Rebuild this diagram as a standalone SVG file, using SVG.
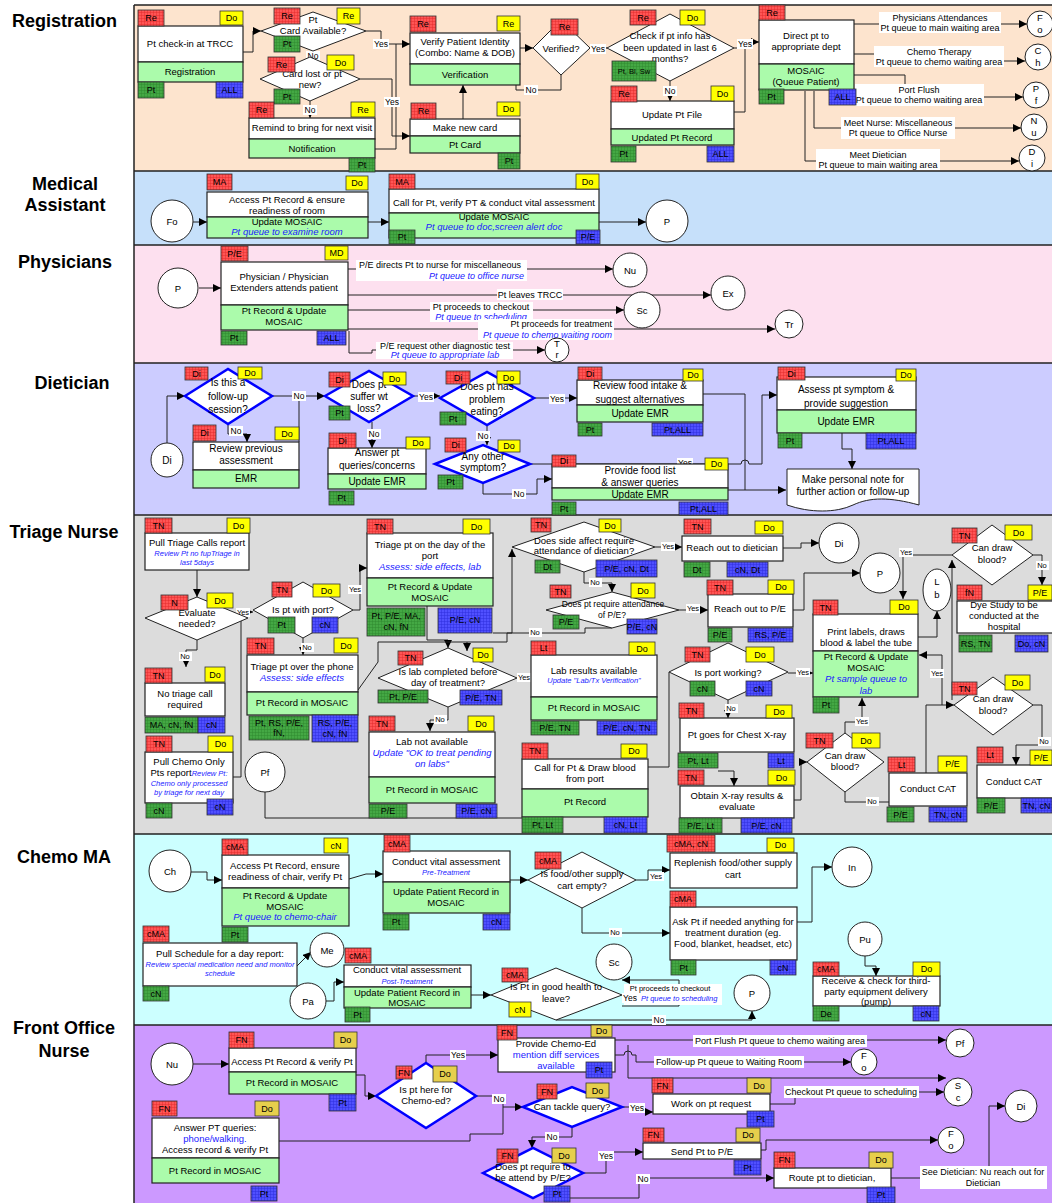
<svg xmlns="http://www.w3.org/2000/svg" width="1052" height="1203" viewBox="0 0 1052 1203">
<defs>
<style>
text{font-family:"Liberation Sans",Arial,sans-serif;font-size:9.5px;text-anchor:middle;fill:#000}
.h{font-weight:bold;font-size:18px}
.dt{font-size:10px}
.s{font-size:8.5px}
.xs{font-size:7.5px}
.tt{font-size:9px}
.t7{font-size:7.5px}
.lt{font-size:9px}
.bl{fill:#1a1aff;font-style:italic}
.bn{fill:#1a1aff}
.st{text-anchor:start}
.en{text-anchor:end}
.ln{fill:none;stroke:#222;stroke-width:1}
.ar{marker-end:url(#ah)}
.w{fill:#fff;stroke:#222;stroke-width:1.2}
.g{fill:#abfbab;stroke:#222;stroke-width:1.2}
.d{fill:#fff;stroke:#222;stroke-width:1}
.db{fill:#fff;stroke:#0000ff;stroke-width:2.5}
.c{fill:#fff;stroke:#222;stroke-width:1}
.R{fill:url(#pR);stroke:#333;stroke-width:.8}
.Y{fill:#ffff00;stroke:#333;stroke-width:.8}
.Y2{fill:#e6cf4c;stroke:#333;stroke-width:.8}
.G{fill:url(#pG);stroke:#333;stroke-width:.8}
.B{fill:url(#pB);stroke:#333;stroke-width:.8}
.lb{fill:#fff}
</style>
<pattern id="pR" width="3" height="3" patternUnits="userSpaceOnUse"><rect width="3" height="3" fill="#ff5555"/><path d="M0,.5H3M.5,0V3" stroke="#e02828" stroke-width=".45"/></pattern>
<pattern id="pG" width="3" height="3" patternUnits="userSpaceOnUse"><rect width="3" height="3" fill="#44a844"/><path d="M0,.5H3M.5,0V3" stroke="#2c862c" stroke-width=".45"/></pattern>
<pattern id="pB" width="3" height="3" patternUnits="userSpaceOnUse"><rect width="3" height="3" fill="#5050ff"/><path d="M0,.5H3M.5,0V3" stroke="#2a2ad8" stroke-width=".45"/></pattern>
<marker id="ah" viewBox="0 0 10 10" refX="10" refY="5" markerWidth="8" markerHeight="8" markerUnits="userSpaceOnUse" orient="auto"><path d="M0,0L10,5L0,10Z" fill="#000"/></marker>
</defs>
<rect width="1052" height="1203" fill="#fff"/>
<g id="lanes">
<rect x="134" y="5" width="920" height="166" fill="#fde4ce"/>
<rect x="134" y="171" width="920" height="74" fill="#c6e0fa"/>
<rect x="134" y="245" width="920" height="118" fill="#fde0ef"/>
<rect x="134" y="363" width="920" height="152" fill="#ccccff"/>
<rect x="134" y="515" width="920" height="319" fill="#dcdcdc"/>
<rect x="134" y="834" width="920" height="191" fill="#ccffff"/>
<rect x="134" y="1025" width="920" height="180" fill="#cc99ff"/>
<path d="M134,5H1052M134,171H1052M134,245H1052M134,363H1052M134,515H1052M134,834H1052M134,1025H1052M134,5V1203" stroke="#222" stroke-width="1.5" fill="none"/>
<text class="h st" x="12" y="27">Registration</text>
<text class="h" x="65" y="190">Medical</text>
<text class="h" x="65" y="211">Assistant</text>
<text class="h" x="65" y="268">Physicians</text>
<text class="h" x="72" y="389">Dietician</text>
<text class="h" x="64" y="538">Triage Nurse</text>
<text class="h" x="64" y="863">Chemo MA</text>
<text class="h" x="64" y="1034">Front Office</text>
<text class="h" x="64" y="1057">Nurse</text>
</g>
<g id="connectors">
<path class="ln ar" d="M243,52H253V31H261"/>
<path class="ln ar" d="M366,31H381V44H410"/>
<path class="ln" d="M313,51V57"/>
<path class="ln ar" d="M310,101V118"/>
<path class="ln ar" d="M360,79H392V136H410"/>
<path class="ln" d="M375,149H396V44"/>
<path class="ln ar" d="M463,119V85"/>
<path class="ln ar" d="M520,48H533"/>
<path class="ln ar" d="M561,75V90H516V65"/>
<path class="ln ar" d="M590,48H607"/>
<path class="ln ar" d="M670,81V101"/>
<path class="ln ar" d="M734,48H745V42H759"/>
<path class="ln" d="M734,112H745V48"/>
<path class="ln ar" d="M854,24H1027"/>
<path class="ln ar" d="M854,54H880V61H1025"/>
<path class="ln ar" d="M854,75H905V97H1023"/>
<path class="ln ar" d="M814,91V128H1021"/>
<path class="ln ar" d="M805,91V161H1019"/>
<rect class="lb" x="879" y="12" width="122" height="21"/><text class="lt" x="940" y="21">Physicians Attendances</text><text class="lt" x="940" y="31">Pt queue to main waiting area</text>
<rect class="lb" x="874" y="46" width="130" height="21"/><text class="lt" x="939" y="55">Chemo Therapy</text><text class="lt" x="939" y="65">Pt queue to chemo waiting area</text>
<rect class="lb" x="855" y="84" width="129" height="22"/><text class="lt" x="919" y="93">Port Flush</text><text class="lt" x="919" y="103">Pt queue to chemo waiting area</text>
<rect class="lb" x="841" y="117" width="114" height="22"/><text class="lt" x="898" y="126">Meet Nurse: Miscellaneous</text><text class="lt" x="898" y="136">Pt queue to Office Nurse</text>
<rect class="lb" x="816" y="149" width="124" height="21"/><text class="lt" x="878" y="158">Meet Dietician</text><text class="lt" x="878" y="168">Pt queue to main waiting area</text>
<rect class="lb" x="306" y="51" width="14" height="10"/><text class="s" x="313" y="59">No</text>
<rect class="lb" x="303" y="105" width="14" height="10"/><text class="s" x="310" y="113">No</text>
<rect class="lb" x="384" y="97" width="16" height="10"/><text class="s" x="392" y="105">Yes</text>
<rect class="lb" x="373" y="39" width="16" height="10"/><text class="s" x="381" y="47">Yes</text>
<rect class="lb" x="524" y="85" width="14" height="10"/><text class="s" x="531" y="93">No</text>
<rect class="lb" x="590" y="44" width="16" height="10"/><text class="s" x="598" y="52">Yes</text>
<rect class="lb" x="663" y="86" width="14" height="10"/><text class="s" x="670" y="94">No</text>
<rect class="lb" x="737" y="39" width="16" height="10"/><text class="s" x="745" y="47">Yes</text>
<path class="ln ar" d="M193,222H207"/>
<path class="ln ar" d="M368,222H389"/>
<path class="ln ar" d="M599,222H646"/>
<path class="ln ar" d="M199,288H221"/>
<path class="ln ar" d="M348,269H613"/>
<path class="ln ar" d="M348,295H711"/>
<path class="ln ar" d="M348,310H624"/>
<path class="ln ar" d="M348,329H775"/>
<path class="ln ar" d="M349,331V353H372V350H545"/>
<rect class="lb" x="356" y="260" width="171" height="21"/><text class="lt st" x="359" y="268">P/E directs Pt to nurse for miscellaneous</text><text class="lt en bl" x="524" y="279">Pt queue to office nurse</text>
<rect class="lb" x="497" y="289" width="66" height="11"/><text class="lt" x="530" y="298">Pt leaves TRCC</text>
<rect class="lb" x="430" y="302" width="103" height="20"/><text class="lt" x="481" y="310">Pt proceeds to checkout</text><text class="lt bl" x="481" y="320">Pt queue to scheduling</text>
<rect class="lb" x="478" y="319" width="136" height="21"/><text class="lt en" x="612" y="327">Pt proceeds for treatment</text><text class="lt en bl" x="612" y="338">Pt queue to chemo waiting room</text>
<rect class="lb" x="376" y="342" width="137" height="17"/><text class="lt" x="445" y="349">P/E request other diagnostic test</text><text class="lt bl" x="445" y="358">Pt queue to appropriate lab</text>
<path class="ln ar" d="M167,443V396H185"/>
<path class="ln ar" d="M272,396H325"/>
<path class="ln" d="M299,442V396"/>
<path class="ln ar" d="M228,424V434H247V442"/>
<path class="ln ar" d="M413,396H440"/>
<path class="ln ar" d="M372,422V448"/>
<path class="ln ar" d="M534,398H577"/>
<path class="ln ar" d="M487,425V445"/>
<path class="ln ar" d="M530,464H741A4,4 0 0 1 749,464H762V395H777"/>
<path class="ln ar" d="M703,394H745V490H786"/>
<path class="ln" d="M728,490H745"/>
<path class="ln ar" d="M483,483V494H537V479H552"/>
<path class="ln ar" d="M842,433V449H852V469"/>
<rect class="lb" x="292" y="391" width="14" height="10"/><text class="s" x="299" y="399">No</text>
<rect class="lb" x="229" y="426" width="14" height="10"/><text class="s" x="236" y="434">No</text>
<rect class="lb" x="418" y="392" width="16" height="10"/><text class="s" x="426" y="400">Yes</text>
<rect class="lb" x="367" y="429" width="14" height="10"/><text class="s" x="374" y="437">No</text>
<rect class="lb" x="549" y="394" width="16" height="10"/><text class="s" x="557" y="402">Yes</text>
<rect class="lb" x="476" y="431" width="14" height="10"/><text class="s" x="483" y="439">No</text>
<rect class="lb" x="677" y="458" width="16" height="10"/><text class="s" x="685" y="466">Yes</text>
<rect class="lb" x="512" y="489" width="14" height="10"/><text class="s" x="519" y="497">No</text>
<path class="ln ar" d="M197,570V597"/>
<path class="ln ar" d="M197,640V650H186V667"/>
<path class="ln ar" d="M246,612H253"/>
<path class="ln" d="M233,777H241V612H248"/>
<path class="ln ar" d="M353,610H360V568H367"/>
<path class="ln ar" d="M303,638V655"/>
<path class="ln ar" d="M427,606V640H448V648"/>
<path class="ln ar" d="M358,690L378,662V642H467V651"/>
<path class="ln ar" d="M493,633H512V549"/>
<path class="ln" d="M612,628H585V633H507V642H467"/>
<path class="ln ar" d="M655,547H682"/>
<path class="ln ar" d="M584,572V583H612V592"/>
<path class="ln ar" d="M679,610H708"/>
<path class="ln ar" d="M783,548H801V543H819"/>
<path class="ln ar" d="M793,610H804V573H860"/>
<path class="ln ar" d="M952,555H903V599"/>
<path class="ln ar" d="M1033,555H1042V585"/>
<path class="ln ar" d="M918,637H937V611"/>
<path class="ln ar" d="M517,678H531"/>
<path class="ln ar" d="M788,673H813"/>
<path class="ln ar" d="M728,700V718"/>
<path class="ln" d="M648,767H669V672"/>
<path class="ln ar" d="M718,771H734V786"/>
<path class="ln ar" d="M794,800H801V762H807"/>
<path class="ln ar" d="M845,733V722H862V698"/>
<path class="ln" d="M845,792V802H889"/>
<path class="ln ar" d="M926,773V705H954"/>
<path class="ln ar" d="M942,705V655H919"/>
<path class="ln ar" d="M952,700V560"/>
<path class="ln ar" d="M1033,705H1042V745H1016V765"/>
<path class="ln" d="M265,792V818H522"/>
<path class="ln ar" d="M448,707V720H430V731"/>
<rect class="lb" x="179" y="652" width="13" height="9"/><text class="xs" x="185" y="659">No</text>
<rect class="lb" x="236" y="608" width="14" height="9"/><text class="xs" x="243" y="615">Yes</text>
<rect class="lb" x="348" y="585" width="14" height="9"/><text class="xs" x="355" y="592">Yes</text>
<rect class="lb" x="301" y="643" width="13" height="9"/><text class="xs" x="307" y="650">No</text>
<rect class="lb" x="529" y="628" width="13" height="9"/><text class="xs" x="535" y="635">No</text>
<rect class="lb" x="661" y="542" width="14" height="9"/><text class="xs" x="668" y="549">Yes</text>
<rect class="lb" x="589" y="578" width="13" height="9"/><text class="xs" x="595" y="585">No</text>
<rect class="lb" x="686" y="604" width="14" height="9"/><text class="xs" x="693" y="611">Yes</text>
<rect class="lb" x="899" y="548" width="14" height="9"/><text class="xs" x="906" y="555">Yes</text>
<rect class="lb" x="1036" y="561" width="13" height="9"/><text class="xs" x="1042" y="568">No</text>
<rect class="lb" x="517" y="673" width="14" height="9"/><text class="xs" x="524" y="680">Yes</text>
<rect class="lb" x="796" y="668" width="14" height="9"/><text class="xs" x="803" y="675">Yes</text>
<rect class="lb" x="725" y="704" width="13" height="9"/><text class="xs" x="731" y="711">No</text>
<rect class="lb" x="855" y="717" width="14" height="9"/><text class="xs" x="862" y="724">Yes</text>
<rect class="lb" x="866" y="797" width="13" height="9"/><text class="xs" x="872" y="804">No</text>
<rect class="lb" x="930" y="669" width="14" height="9"/><text class="xs" x="937" y="676">Yes</text>
<rect class="lb" x="1038" y="737" width="13" height="9"/><text class="xs" x="1044" y="744">No</text>
<rect class="lb" x="434" y="715" width="13" height="9"/><text class="xs" x="440" y="722">No</text>
<path class="ln ar" d="M191,872H207V880H222"/>
<path class="ln ar" d="M349,879L366,874H383"/>
<path class="ln ar" d="M510,880H528"/>
<path class="ln ar" d="M636,880H648V870H670"/>
<path class="ln ar" d="M582,908V933H670"/>
<path class="ln ar" d="M797,922H812V867H832"/>
<path class="ln ar" d="M297,966L311,952"/>
<path class="ln ar" d="M326,1001H334V982H344"/>
<path class="ln ar" d="M471,995H491"/>
<path class="ln ar" d="M622,1006H679V980H622"/>
<path class="ln ar" d="M556,1020H752V1011"/>
<path class="ln ar" d="M865,956V966H876V976"/>
<rect class="lb" x="624" y="984" width="98" height="21"/><text class="xs" x="670" y="991">Pt proceeds to checkout</text><text class="xs bl st" x="641" y="1001">Pt queue to scheduling</text>
<rect class="lb" x="622" y="993" width="17" height="10"/><text class="s" x="630" y="1001">Yes</text>
<rect class="lb" x="649" y="872" width="15" height="9"/><text class="xs" x="656" y="879">Yes</text>
<rect class="lb" x="609" y="928" width="13" height="9"/><text class="xs" x="615" y="935">No</text>
<rect class="lb" x="652" y="1015" width="14" height="10"/><text class="s" x="659" y="1023">No</text>
<path class="ln ar" d="M193,1064H229"/>
<path class="ln ar" d="M356,1075H365V1096H376"/>
<path class="ln ar" d="M426,1063V1055H498"/>
<path class="ln ar" d="M476,1096H503V1107H523"/>
<path class="ln" d="M279,1141H470V1134H503V1107"/>
<path class="ln ar" d="M615,1040H946"/>
<path class="ln ar" d="M615,1055H624A4,4 0 0 1 632,1055H636V1062H851"/>
<path class="ln ar" d="M628,1045V1078H946"/>
<path class="ln ar" d="M622,1107H636V1112H653"/>
<path class="ln ar" d="M770,1104H795V1092H944"/>
<path class="ln ar" d="M572,1127V1137H532V1148"/>
<path class="ln ar" d="M583,1173H606V1152H643"/>
<path class="ln ar" d="M570,1198H639V1178H774"/>
<path class="ln ar" d="M761,1150H766V1140H938"/>
<path class="ln" d="M891,1178H920"/>
<path class="ln ar" d="M989,1167V1106H1005"/>
<rect class="lb" x="693" y="1035" width="174" height="12"/><text class="lt" x="780" y="1044">Port Flush Pt queue to chemo waiting area</text>
<rect class="lb" x="654" y="1056" width="150" height="12"/><text class="lt" x="729" y="1065">Follow-up Pt queue to Waiting Room</text>
<rect class="lb" x="784" y="1086" width="135" height="12"/><text class="lt" x="851" y="1095">Checkout Pt queue to scheduling</text>
<rect class="lb" x="920" y="1166" width="127" height="23"/><text class="lt" x="983" y="1175">See Dietician: Nu reach out for</text><text class="lt" x="983" y="1186">Dietician</text>
<rect class="lb" x="450" y="1050" width="16" height="10"/><text class="s" x="458" y="1058">Yes</text>
<rect class="lb" x="492" y="1094" width="14" height="10"/><text class="s" x="499" y="1102">No</text>
<rect class="lb" x="629" y="1103" width="16" height="10"/><text class="s" x="637" y="1111">Yes</text>
<rect class="lb" x="545" y="1132" width="14" height="10"/><text class="s" x="552" y="1140">No</text>
<rect class="lb" x="598" y="1151" width="16" height="10"/><text class="s" x="606" y="1159">Yes</text>
<rect class="lb" x="636" y="1174" width="14" height="10"/><text class="s" x="643" y="1182">No</text>
</g>
<g id="reg_checkin"><rect class="w" x="138" y="26" width="105" height="36"/><rect class="g" x="138" y="62" width="105" height="20"/><text x="190" y="47">Pt check-in at TRCC</text><text x="190" y="75">Registration</text><rect class="R" x="138" y="10" width="26" height="16"/><text class="tt" x="151" y="21">Re</text><rect class="Y" x="220" y="11" width="23" height="14"/><text class="tt" x="231.5" y="21">Do</text><rect class="G" x="138" y="82" width="26" height="16"/><text class="tt" x="151" y="93">Pt</text><rect class="B" x="216" y="82" width="27" height="16"/><text class="tt" x="229.5" y="93">ALL</text></g>
<g id="reg_cardavail"><polygon class="d" points="261,31 313,12 366,31 313,51"/><text x="313" y="23">Pt</text><text x="313" y="34">Card Available?</text><rect class="R" x="274" y="8" width="26" height="16"/><text class="tt" x="287" y="19">Re</text><rect class="Y" x="337" y="8" width="23" height="16"/><text class="tt" x="348.5" y="19">Re</text><rect class="G" x="274" y="36" width="26" height="16"/><text class="tt" x="287" y="47">Pt</text></g>
<g id="reg_cardlost"><polygon class="d" points="260,79 310,57 360,79 310,101"/><text x="312" y="77">Card lost or pt</text><text x="310" y="88">new?</text><rect class="R" x="268" y="57" width="27" height="15"/><text class="tt" x="281.5" y="67.5">Re</text><rect class="Y" x="327" y="55" width="27" height="15"/><text class="tt" x="340.5" y="65.5">Do</text><rect class="G" x="274" y="89" width="26" height="15"/><text class="tt" x="287" y="99.5">Pt</text></g>
<g id="reg_remind"><rect class="w" x="249" y="118" width="126" height="21"/><rect class="g" x="249" y="139" width="126" height="19"/><text x="312" y="131">Remind to bring for next visit</text><text x="312" y="152">Notification</text><rect class="R" x="249" y="102" width="25" height="16"/><text class="tt" x="261.5" y="113">Re</text><rect class="Y" x="351" y="102" width="24" height="15"/><text class="tt" x="363" y="112.5">Re</text><rect class="G" x="349" y="158" width="26" height="14"/><text class="tt" x="362" y="168">Pt</text></g>
<g id="reg_verify"><rect class="w" x="410" y="33" width="110" height="31"/><rect class="g" x="410" y="64" width="110" height="21"/><text x="465" y="45">Verify Patient Identity</text><text x="465" y="56">(Combo: Name &amp; DOB)</text><text x="465" y="78">Verification</text><rect class="R" x="410" y="16" width="26" height="16"/><text class="tt" x="423" y="27">Re</text><rect class="Y" x="497" y="16" width="23" height="15"/><text class="tt" x="508.5" y="26.5">Re</text></g>
<g id="reg_newcard"><rect class="w" x="410" y="119" width="110" height="17"/><rect class="g" x="410" y="136" width="110" height="17"/><text x="465" y="131">Make new card</text><text x="465" y="148">Pt Card</text><rect class="R" x="411" y="103" width="25" height="16"/><text class="tt" x="423.5" y="114">Re</text><rect class="Y" x="497" y="102" width="23" height="14"/><text class="tt" x="508.5" y="112">Do</text><rect class="G" x="498" y="153" width="22" height="16"/><text class="tt" x="509" y="164">Pt</text></g>
<g id="reg_verified"><polygon class="d" points="533,48 561,20 590,48 561,75"/><text x="561" y="52">Verified?</text><rect class="R" x="551" y="19" width="27" height="16"/><text class="tt" x="564.5" y="30">Re</text></g>
<g id="reg_check"><polygon class="d" points="607,48 670,14 734,48 670,81"/><text x="670" y="39">Check if pt info has</text><text x="670" y="51">been updated in last 6</text><text x="670" y="62">months?</text><rect class="R" x="630" y="10" width="26" height="15"/><text class="tt" x="643" y="20.5">Re</text><rect class="Y" x="680" y="10" width="25" height="15"/><text class="tt" x="692.5" y="20.5">Do</text><rect class="G" x="612" y="61" width="44" height="20"/><text class="t7" x="634" y="74">Pt, Bl, Sw</text></g>
<g id="reg_update"><rect class="w" x="611" y="101" width="123" height="28"/><rect class="g" x="611" y="129" width="123" height="16"/><text x="672" y="118">Update Pt File</text><text x="672" y="141">Updated Pt  Record</text><rect class="R" x="611" y="86" width="26" height="16"/><text class="tt" x="624" y="97">Re</text><rect class="Y" x="711" y="86" width="23" height="15"/><text class="tt" x="722.5" y="96.5">Do</text><rect class="G" x="611" y="146" width="25" height="16"/><text class="tt" x="623.5" y="157">Pt</text><rect class="B" x="707" y="146" width="27" height="16"/><text class="tt" x="720.5" y="157">ALL</text></g>
<g id="reg_direct"><rect class="w" x="759" y="20" width="95" height="44"/><rect class="g" x="759" y="64" width="95" height="26"/><text x="806" y="39">Direct pt to</text><text x="806" y="50">appropriate dept</text><text x="806" y="74">MOSAIC</text><text x="806" y="85">(Queue Patient)</text><rect class="R" x="759" y="5" width="26" height="15"/><text class="tt" x="772" y="15.5">Re</text><rect class="G" x="759" y="89" width="25" height="15"/><text class="tt" x="771.5" y="99.5">Pt</text><rect class="B" x="829" y="89" width="27" height="16"/><text class="tt" x="842.5" y="100">ALL</text></g>
<g id="reg_fo"><circle class="c" cx="1040" cy="24" r="13"/><text x="1040" y="21">F</text><text x="1040" y="33">o</text></g>
<g id="reg_ch"><circle class="c" cx="1038" cy="57" r="13"/><text x="1038" y="54">C</text><text x="1038" y="66">h</text></g>
<g id="reg_pf"><circle class="c" cx="1036" cy="95" r="13"/><text x="1036" y="92">P</text><text x="1036" y="104">f</text></g>
<g id="reg_nu"><circle class="c" cx="1034" cy="127" r="13"/><text x="1034" y="124">N</text><text x="1034" y="136">u</text></g>
<g id="reg_di"><circle class="c" cx="1032" cy="158" r="13"/><text x="1032" y="155">D</text><text x="1032" y="167">i</text></g>
<g id="ma_fo"><circle class="c" cx="172" cy="221" r="21"/><text x="172" y="225">Fo</text></g>
<g id="ma_access"><rect class="w" x="207" y="192" width="161" height="25"/><rect class="g" x="207" y="217" width="161" height="21"/><text x="287" y="203">Access Pt Record &amp; ensure</text><text x="287" y="214">readiness of room</text><text x="287" y="225">Update MOSAIC</text><text class="bl" x="287" y="235">Pt queue to examine room</text><rect class="R" x="207" y="174" width="25" height="16"/><text class="tt" x="219.5" y="185">MA</text><rect class="Y" x="346" y="176" width="22" height="14"/><text class="tt" x="357" y="186">Do</text></g>
<g id="ma_call"><rect class="w" x="389" y="189" width="210" height="24"/><rect class="g" x="389" y="213" width="210" height="25"/><text x="494" y="206">Call for Pt, verify PT &amp; conduct vital assessment</text><text x="494" y="220">Update MOSAIC</text><text class="bl" x="494" y="230">Pt queue to doc,screen alert doc</text><rect class="R" x="389" y="174" width="26" height="15"/><text class="tt" x="402" y="184.5">MA</text><rect class="Y" x="576" y="174" width="23" height="15"/><text class="tt" x="587.5" y="184.5">Do</text><rect class="G" x="389" y="230" width="26" height="14"/><text class="tt" x="402" y="240">Pt</text><rect class="B" x="576" y="230" width="24" height="14"/><text class="tt" x="588" y="240">P/E</text></g>
<g id="ma_p"><circle class="c" cx="667" cy="221" r="21"/><text x="667" y="225">P</text></g>
<g id="ph_p"><circle class="c" cx="178" cy="288" r="20"/><text x="178" y="292">P</text></g>
<g id="ph_attend"><rect class="w" x="221" y="262" width="127" height="43"/><rect class="g" x="221" y="305" width="127" height="25"/><text x="284" y="280">Physician / Physician</text><text x="284" y="291">Extenders attends patient</text><text x="284" y="314">Pt Record &amp; Update</text><text x="284" y="325">MOSAIC</text><rect class="R" x="221" y="246" width="27" height="15"/><text class="tt" x="234.5" y="256.5">P/E</text><rect class="Y" x="325" y="246" width="23" height="14"/><text class="tt" x="336.5" y="256">MD</text><rect class="G" x="221" y="331" width="26" height="14"/><text class="tt" x="234" y="341">Pt</text><rect class="B" x="317" y="331" width="29" height="14"/><text class="tt" x="331.5" y="341">ALL</text></g>
<g id="ph_nu"><circle class="c" cx="630" cy="270" r="17"/><text x="630" y="274">Nu</text></g>
<g id="ph_ex"><circle class="c" cx="728" cy="293" r="17"/><text x="728" y="297">Ex</text></g>
<g id="ph_sc"><circle class="c" cx="642" cy="310" r="18"/><text x="642" y="314">Sc</text></g>
<g id="ph_tr"><circle class="c" cx="789" cy="324" r="14"/><text x="789" y="328">Tr</text></g>
<g id="ph_tr2"><circle class="c" cx="557" cy="350" r="12"/><text x="557" y="347">T</text><text x="557" y="358">r</text></g>
<g id="di_di"><ellipse class="c" cx="167" cy="460" rx="16" ry="17"/><text class="dt" x="167" y="464">Di</text></g>
<g id="di_followup"><polygon class="db" points="185,396 228,369 272,396 228,424"/><text class="dt" x="228" y="386">Is this a</text><text class="dt" x="228" y="400">follow-up</text><text class="dt" x="228" y="413">session?</text><rect class="R" x="185" y="367" width="23" height="13"/><text class="tt" x="196.5" y="376.5">Di</text><rect class="Y" x="238" y="367" width="24" height="12"/><text class="tt" x="250" y="376">Do</text></g>
<g id="di_review"><rect class="w" x="193" y="442" width="106" height="28"/><rect class="g" x="193" y="470" width="106" height="18"/><text class="dt" x="246" y="452">Review previous</text><text class="dt" x="246" y="464">assessment</text><text class="dt" x="246" y="482">EMR</text><rect class="R" x="193" y="425" width="23" height="16"/><text class="tt" x="204.5" y="436">Di</text><rect class="Y" x="275" y="427" width="24" height="13"/><text class="tt" x="287" y="436.5">Do</text></g>
<g id="di_wtloss"><polygon class="db" points="325,396 369,371 413,396 369,422"/><text class="dt" x="369" y="388">Does pt</text><text class="dt" x="369" y="400">suffer wt</text><text class="dt" x="369" y="412">loss?</text><rect class="R" x="329" y="372" width="21" height="15"/><text class="tt" x="339.5" y="382.5">Di</text><rect class="Y" x="383" y="372" width="23" height="13"/><text class="tt" x="394.5" y="381.5">Do</text><rect class="G" x="329" y="406" width="21" height="14"/><text class="tt" x="339.5" y="416">Pt</text></g>
<g id="di_answer"><rect class="w" x="328" y="448" width="98" height="26"/><rect class="g" x="328" y="474" width="98" height="15"/><text class="dt" x="377" y="456">Answer pt</text><text class="dt" x="377" y="469">queries/concerns</text><text class="dt" x="377" y="485">Update EMR</text><rect class="R" x="329" y="433" width="27" height="15"/><text class="tt" x="342.5" y="443.5">Di</text><rect class="Y" x="406" y="437" width="24" height="12"/><text class="tt" x="418" y="446">Do</text><rect class="G" x="329" y="491" width="25" height="14"/><text class="tt" x="341.5" y="501">Pt</text></g>
<g id="di_eating"><polygon class="db" points="440,398 487,372 534,398 487,425"/><text class="dt" x="487" y="390">Does pt has</text><text class="dt" x="487" y="403">problem</text><text class="dt" x="487" y="415">eating?</text><rect class="R" x="446" y="371" width="24" height="13"/><text class="tt" x="458" y="380.5">Di</text><rect class="Y" x="497" y="371" width="23" height="13"/><text class="tt" x="508.5" y="380.5">Do</text><rect class="G" x="440" y="412" width="26" height="13"/><text class="tt" x="453" y="421.5">Pt</text></g>
<g id="di_other"><polygon class="db" points="435,464 483,445 530,464 483,483"/><text class="dt" x="483" y="460">Any other</text><text class="dt" x="483" y="471">symptom?</text><rect class="R" x="445" y="438" width="21" height="14"/><text class="tt" x="455.5" y="448">Di</text><rect class="Y" x="498" y="440" width="22" height="12"/><text class="tt" x="509" y="449">Do</text><rect class="G" x="438" y="475" width="25" height="14"/><text class="tt" x="450.5" y="485">Pt</text></g>
<g id="di_food"><rect class="w" x="577" y="380" width="126" height="25"/><rect class="g" x="577" y="405" width="126" height="17"/><text class="dt" x="640" y="389">Review food intake &amp;</text><text class="dt" x="640" y="403">suggest alternatives</text><text class="dt" x="640" y="417">Update EMR</text><rect class="R" x="578" y="367" width="24" height="13"/><text class="tt" x="590" y="376.5">Di</text><rect class="Y" x="683" y="369" width="20" height="12"/><text class="tt" x="693" y="378">Do</text><rect class="G" x="578" y="423" width="24" height="13"/><text class="tt" x="590" y="432.5">Pt</text><rect class="B" x="652" y="423" width="51" height="13"/><text class="tt" x="677.5" y="432.5">Pt,ALL</text></g>
<g id="di_provide"><rect class="w" x="552" y="464" width="176" height="24"/><text class="dt" x="640" y="474">Provide food list</text><text class="dt" x="640" y="486">&amp; answer queries</text><rect class="g" x="552" y="488" width="176" height="12"/><text class="dt" x="640" y="498">Update EMR</text><rect class="R" x="552" y="455" width="24" height="12"/><text class="tt" x="564" y="464">Di</text><rect class="Y" x="705" y="458" width="23" height="12"/><text class="tt" x="716.5" y="467">Do</text><rect class="G" x="552" y="502" width="24" height="13"/><text class="tt" x="564" y="511.5">Pt</text><rect class="B" x="679" y="502" width="49" height="13"/><text class="tt" x="703.5" y="511.5">Pt,ALL</text></g>
<g id="di_assess"><rect class="w" x="777" y="377" width="139" height="33"/><rect class="g" x="777" y="410" width="139" height="23"/><text class="dt" x="846" y="393">Assess pt symptom &amp;</text><text class="dt" x="846" y="407">provide suggestion</text><text class="dt" x="846" y="425">Update EMR</text><rect class="R" x="778" y="367" width="27" height="13"/><text class="tt" x="791.5" y="376.5">Di</text><rect class="Y" x="896" y="369" width="20" height="12"/><text class="tt" x="906" y="378">Do</text><rect class="G" x="778" y="433" width="24" height="15"/><text class="tt" x="790" y="443.5">Pt</text><rect class="B" x="866" y="433" width="50" height="16"/><text class="tt" x="891" y="444">Pt,ALL</text></g>
<g id="di_note"><path class="c" d="M787,469H919V505C890,497 870,497 853,505C836,513 810,513 787,505Z"/><text class="dt" x="853" y="483">Make personal note for</text><text class="dt" x="853" y="495">further action or follow-up</text></g>
<g id="tn_pull"><rect class="w" x="145" y="533" width="104" height="37"/><text x="197" y="546">Pull Triage Calls report</text><text class="xs bl" x="197" y="556">Review Pt no fupTriage in</text><text class="xs bl" x="197" y="565">last 5days</text><rect class="R" x="145" y="518" width="27" height="15"/><text class="tt" x="158.5" y="528.5">TN</text><rect class="Y" x="227" y="518" width="23" height="15"/><text class="tt" x="238.5" y="528.5">Do</text></g>
<g id="tn_eval"><polygon class="d" points="145,618 197,597 248,618 197,640"/><text x="197" y="616">Evaluate</text><text x="197" y="627">needed?</text><rect class="R" x="161" y="595" width="27" height="15"/><text class="tt" x="174.5" y="605.5">N</text><rect class="Y" x="207" y="593" width="26" height="15"/><text class="tt" x="220" y="603.5">Do</text></g>
<g id="tn_port"><polygon class="d" points="253,610 303,582 353,610 303,638"/><text x="303" y="613">Is pt with port?</text><rect class="R" x="272" y="582" width="20" height="15"/><text class="tt" x="282" y="592.5">TN</text><rect class="Y" x="313" y="584" width="27" height="13"/><text class="tt" x="326.5" y="593.5">Do</text><rect class="G" x="268" y="617" width="27" height="16"/><text class="tt" x="281.5" y="628">Pt</text><rect class="B" x="312" y="617" width="26" height="16"/><text class="tt" x="325" y="628">cN</text></g>
<g id="tn_notriage"><rect class="w" x="145" y="683" width="80" height="33"/><text x="185" y="697">No triage call</text><text x="185" y="708">required</text><rect class="R" x="145" y="668" width="27" height="15"/><text class="tt" x="158.5" y="678.5">TN</text><rect class="Y" x="205" y="667" width="20" height="15"/><text class="tt" x="215" y="677.5">Do</text><rect class="G" x="145" y="717" width="53" height="16"/><text class="tt" x="171.5" y="728">MA, cN, fN</text><rect class="B" x="198" y="717" width="27" height="16"/><text class="tt" x="211.5" y="728">cN</text></g>
<g id="tn_phone"><rect class="w" x="247" y="655" width="111" height="37"/><rect class="g" x="247" y="692" width="111" height="23"/><text x="302" y="670">Triage pt over the phone</text><text class="bl" x="302" y="681">Assess: side effects</text><text x="302" y="706">Pt Record in MOSAIC</text><rect class="R" x="247" y="638" width="27" height="16"/><text class="tt" x="260.5" y="649">TN</text><rect class="Y" x="334" y="638" width="24" height="15"/><text class="tt" x="346" y="648.5">Do</text><rect class="G" x="249" y="716" width="60" height="24"/><text class="tt" x="279" y="726">Pt, RS, P/E,</text><text class="tt" x="279" y="736">fN,</text><rect class="B" x="312" y="715" width="46" height="27"/><text class="tt" x="335" y="726">RS, P/E,</text><text class="tt" x="335" y="737">cN, fN</text></g>
<g id="tn_chemoonly"><rect class="w" x="145" y="752" width="88" height="51"/><text x="189" y="765">Pull Chemo Only</text><text x="189" y="776">Pts report<tspan class="xs bl">Review Pt:</tspan></text><text class="xs bl" x="189" y="786">Chemo only processed</text><text class="xs bl" x="189" y="795">by triage for next day</text><rect class="R" x="146" y="736" width="26" height="16"/><text class="tt" x="159" y="747">TN</text><rect class="Y" x="208" y="736" width="25" height="16"/><text class="tt" x="220.5" y="747">Do</text><rect class="G" x="146" y="803" width="26" height="15"/><text class="tt" x="159" y="813.5">cN</text><rect class="B" x="207" y="799" width="26" height="16"/><text class="tt" x="220" y="810">cN</text></g>
<g id="tn_pf"><circle class="c" cx="265" cy="772" r="20"/><text x="265" y="776">Pf</text></g>
<g id="tn_tport"><rect class="w" x="367" y="533" width="126" height="45"/><rect class="g" x="367" y="578" width="126" height="28"/><text x="430" y="548">Triage pt on the day of the</text><text x="430" y="559">port</text><text class="bl" x="430" y="570">Assess: side effects, lab</text><text x="430" y="590">Pt Record &amp; Update</text><text x="430" y="601">MOSAIC</text><rect class="R" x="367" y="519" width="26" height="15"/><text class="tt" x="380" y="529.5">TN</text><rect class="Y" x="463" y="519" width="27" height="15"/><text class="tt" x="476.5" y="529.5">Do</text><rect class="G" x="367" y="608" width="58" height="28"/><text class="tt" x="396" y="619">Pt, P/E, MA,</text><text class="tt" x="396" y="630">cN, fN</text><rect class="B" x="438" y="608" width="54" height="25"/><text class="tt" x="465" y="623">P/E, cN</text></g>
<g id="tn_lab"><polygon class="d" points="378,678 448,648 517,678 448,707"/><text x="448" y="675">Is lab completed before</text><text x="448" y="686">day of treatment?</text><rect class="R" x="398" y="651" width="25" height="14"/><text class="tt" x="410.5" y="661">TN</text><rect class="Y" x="473" y="648" width="20" height="14"/><text class="tt" x="483" y="658">Do</text><rect class="G" x="378" y="690" width="50" height="13"/><text class="tt" x="403" y="699.5">Pt, P/E</text><rect class="B" x="460" y="690" width="42" height="15"/><text class="tt" x="481" y="700.5">P/E, TN</text></g>
<g id="tn_labna"><rect class="w" x="369" y="732" width="126" height="45"/><rect class="g" x="369" y="777" width="126" height="26"/><text x="432" y="745">Lab not available</text><text class="bl" x="432" y="756">Update "OK to treat pending</text><text class="bl" x="432" y="767">on labs"</text><text x="432" y="793">Pt Record in MOSAIC</text><rect class="R" x="369" y="716" width="26" height="15"/><text class="tt" x="382" y="726.5">TN</text><rect class="Y" x="468" y="716" width="26" height="15"/><text class="tt" x="481" y="726.5">Do</text><rect class="G" x="369" y="804" width="38" height="14"/><text class="tt" x="388" y="814">P/E</text><rect class="B" x="456" y="804" width="41" height="14"/><text class="tt" x="476.5" y="814">P/E, cN</text></g>
<g id="tn_side"><polygon class="d" points="512,547 584,522 655,547 584,572"/><text x="584" y="544">Does side affect require</text><text x="584" y="554">attendance of dietician?</text><rect class="R" x="531" y="518" width="20" height="14"/><text class="tt" x="541" y="528">TN</text><rect class="Y" x="599" y="519" width="22" height="13"/><text class="tt" x="610" y="528.5">Do</text><rect class="G" x="535" y="560" width="25" height="13"/><text class="tt" x="547.5" y="569.5">Dt</text><rect class="B" x="596" y="560" width="61" height="17"/><text class="tt" x="626.5" y="571.5">P/E, cN, Dt</text></g>
<g id="tn_reachdi"><rect class="w" x="682" y="536" width="101" height="25"/><text x="732" y="551">Reach out to dietician</text><rect class="R" x="684" y="519" width="27" height="15"/><text class="tt" x="697.5" y="529.5">TN</text><rect class="Y" x="755" y="521" width="28" height="13"/><text class="tt" x="769" y="530.5">Do</text><rect class="G" x="684" y="562" width="26" height="15"/><text class="tt" x="697" y="572.5">Dt</text><rect class="B" x="727" y="562" width="41" height="15"/><text class="tt" x="747.5" y="572.5">cN, Dt</text></g>
<g id="tn_di"><circle class="c" cx="839" cy="543" r="20"/><text x="839" y="547">Di</text></g>
<g id="tn_pe"><polygon class="d" points="546,610 612,592 679,610 612,628"/><text class="s" x="613" y="607">Does pt require attendance</text><text class="s" x="612" y="618">of P/E?</text><rect class="R" x="550" y="585" width="21" height="13"/><text class="tt" x="560.5" y="594.5">TN</text><rect class="Y" x="631" y="583" width="24" height="15"/><text class="tt" x="643" y="593.5">Do</text><rect class="G" x="553" y="615" width="26" height="14"/><text class="tt" x="566" y="625">P/E</text><rect class="B" x="627" y="619" width="30" height="15"/><text class="tt" x="642" y="629.5">P/E, cN</text></g>
<g id="tn_reachpe"><rect class="w" x="708" y="594" width="85" height="33"/><text x="750" y="612">Reach out to P/E</text><rect class="R" x="707" y="580" width="26" height="15"/><text class="tt" x="720" y="590.5">TN</text><rect class="Y" x="768" y="580" width="26" height="14"/><text class="tt" x="781" y="590">Do</text><rect class="G" x="708" y="628" width="24" height="14"/><text class="tt" x="720" y="638">P/E</text><rect class="B" x="748" y="628" width="45" height="14"/><text class="tt" x="770.5" y="638">RS, P/E</text></g>
<g id="tn_p"><circle class="c" cx="880" cy="573" r="20"/><text x="880" y="577">P</text></g>
<g id="tn_labres"><rect class="w" x="531" y="655" width="126" height="42"/><rect class="g" x="531" y="697" width="126" height="23"/><text x="594" y="674">Lab results available</text><text class="xs bl" x="594" y="683">Update "Lab/Tx Verification"</text><text x="594" y="711">Pt Record in MOSAIC</text><rect class="R" x="531" y="641" width="25" height="14"/><text class="tt" x="543.5" y="651">Lt</text><rect class="Y" x="629" y="642" width="26" height="13"/><text class="tt" x="642" y="651.5">Do</text><rect class="G" x="531" y="721" width="48" height="14"/><text class="tt" x="555" y="731">P/E, TN</text><rect class="B" x="597" y="721" width="60" height="14"/><text class="tt" x="627" y="731">P/E, cN, TN</text></g>
<g id="tn_portwork"><polygon class="d" points="669,672 728,643 788,672 728,700"/><text x="728" y="676">Is port working?</text><rect class="R" x="685" y="647" width="25" height="15"/><text class="tt" x="697.5" y="657.5">TN</text><rect class="Y" x="746" y="647" width="28" height="15"/><text class="tt" x="760" y="657.5">Do</text><rect class="G" x="690" y="681" width="25" height="15"/><text class="tt" x="702.5" y="691.5">cN</text><rect class="B" x="746" y="681" width="26" height="15"/><text class="tt" x="759" y="691.5">cN</text></g>
<g id="tn_print"><rect class="w" x="813" y="614" width="105" height="37"/><rect class="g" x="813" y="651" width="105" height="46"/><text x="866" y="635">Print labels, draws</text><text x="866" y="646">blood &amp; label the tube</text><text x="866" y="660">Pt Record &amp; Update</text><text x="866" y="671">MOSAIC</text><text class="bl" x="866" y="682">Pt sample queue to</text><text class="bl" x="866" y="694">lab</text><rect class="R" x="813" y="600" width="25" height="15"/><text class="tt" x="825.5" y="610.5">TN</text><rect class="Y" x="890" y="600" width="28" height="14"/><text class="tt" x="904" y="610">Do</text><rect class="G" x="813" y="697" width="26" height="16"/><text class="tt" x="826" y="708">Pt</text></g>
<g id="tn_lb"><ellipse class="c" cx="937" cy="590" rx="14" ry="21"/><text x="937" y="585">L</text><text x="937" y="598">b</text></g>
<g id="tn_candraw1"><polygon class="d" points="952,555 992,525 1033,555 992,585"/><text x="992" y="551">Can draw</text><text x="992" y="563">blood?</text><rect class="R" x="952" y="528" width="25" height="15"/><text class="tt" x="964.5" y="538.5">TN</text><rect class="Y" x="1005" y="525" width="27" height="15"/><text class="tt" x="1018.5" y="535.5">Do</text></g>
<g id="tn_dye"><rect class="w" x="957" y="601" width="97" height="32"/><text x="1004" y="608">Dye Study to be</text><text x="1004" y="619">conducted at the</text><text x="1004" y="630">hospital</text><rect class="R" x="957" y="585" width="25" height="15"/><text class="tt" x="969.5" y="595.5">fN</text><rect class="Y" x="1028" y="585" width="24" height="15"/><text class="tt" x="1040" y="595.5">P/E</text><rect class="G" x="959" y="635" width="33" height="17"/><text class="tt" x="975.5" y="646.5">RS, TN</text><rect class="B" x="1015" y="635" width="33" height="17"/><text class="tt" x="1031.5" y="646.5">Do, cN</text></g>
<g id="tn_candraw2"><polygon class="d" points="954,705 993,677 1033,705 993,735"/><text x="993" y="702">Can draw</text><text x="993" y="714">blood?</text><rect class="R" x="952" y="682" width="25" height="13"/><text class="tt" x="964.5" y="691.5">TN</text><rect class="Y" x="1005" y="675" width="25" height="15"/><text class="tt" x="1017.5" y="685.5">Do</text></g>
<g id="tn_chest"><rect class="w" x="680" y="718" width="114" height="34"/><text x="737" y="738">Pt goes for Chest X-ray</text><rect class="R" x="679" y="703" width="25" height="15"/><text class="tt" x="691.5" y="713.5">TN</text><rect class="Y" x="766" y="705" width="26" height="13"/><text class="tt" x="779" y="714.5">Do</text><rect class="G" x="678" y="753" width="40" height="15"/><text class="tt" x="698" y="763.5">Pt, Lt</text><rect class="B" x="768" y="753" width="26" height="15"/><text class="tt" x="781" y="763.5">Lt</text></g>
<g id="tn_obtain"><rect class="w" x="680" y="786" width="114" height="32"/><text x="737" y="799">Obtain X-ray results &amp;</text><text x="737" y="810">evaluate</text><rect class="R" x="678" y="770" width="26" height="15"/><text class="tt" x="691" y="780.5">TN</text><rect class="Y" x="768" y="770" width="27" height="15"/><text class="tt" x="781.5" y="780.5">Do</text><rect class="G" x="679" y="818" width="43" height="15"/><text class="tt" x="700.5" y="828.5">P/E, Lt</text><rect class="B" x="741" y="818" width="51" height="15"/><text class="tt" x="766.5" y="828.5">P/E, cN</text></g>
<g id="tn_candraw3"><polygon class="d" points="807,762 845,733 884,762 845,792"/><text x="845" y="759">Can draw</text><text x="845" y="770">blood?</text><rect class="R" x="806" y="733" width="27" height="15"/><text class="tt" x="819.5" y="743.5">TN</text><rect class="Y" x="852" y="733" width="28" height="15"/><text class="tt" x="866" y="743.5">Do</text></g>
<g id="tn_call"><rect class="w" x="522" y="759" width="126" height="30"/><rect class="g" x="522" y="789" width="126" height="28"/><text x="585" y="771">Call for Pt &amp; Draw blood</text><text x="585" y="782">from port</text><text x="585" y="805">Pt Record</text><rect class="R" x="522" y="743" width="26" height="16"/><text class="tt" x="535" y="754">TN</text><rect class="Y" x="621" y="744" width="26" height="14"/><text class="tt" x="634" y="754">Do</text><rect class="G" x="522" y="817" width="41" height="16"/><text class="tt" x="542.5" y="828">Pt, Lt</text><rect class="B" x="604" y="817" width="43" height="16"/><text class="tt" x="625.5" y="828">cN, Lt</text></g>
<g id="tn_cat1"><rect class="w" x="889" y="773" width="78" height="33"/><text x="928" y="792">Conduct CAT</text><rect class="R" x="888" y="757" width="27" height="15"/><text class="tt" x="901.5" y="767.5">Lt</text><rect class="Y" x="938" y="756" width="29" height="16"/><text class="tt" x="952.5" y="767">P/E</text><rect class="G" x="887" y="807" width="27" height="15"/><text class="tt" x="900.5" y="817.5">P/E</text><rect class="B" x="929" y="807" width="38" height="15"/><text class="tt" x="948" y="817.5">TN, cN</text></g>
<g id="tn_cat2"><rect class="w" x="977" y="765" width="77" height="33"/><text x="1014" y="785">Conduct CAT</text><rect class="R" x="977" y="747" width="26" height="16"/><text class="tt" x="990" y="758">Lt</text><rect class="Y" x="1030" y="750" width="22" height="15"/><text class="tt" x="1041" y="760.5">P/E</text><rect class="G" x="977" y="798" width="28" height="15"/><text class="tt" x="991" y="808.5">P/E</text><rect class="B" x="1021" y="798" width="31" height="15"/><text class="tt" x="1036.5" y="808.5">TN, cN</text></g>
<g id="cm_ch"><circle class="c" cx="170" cy="871" r="21"/><text x="170" y="875">Ch</text></g>
<g id="cm_access"><rect class="w" x="222" y="855" width="127" height="33"/><rect class="g" x="222" y="888" width="127" height="38"/><text x="285" y="869">Access Pt Record, ensure</text><text x="285" y="880">readiness of chair, verify Pt</text><text x="285" y="899">Pt Record &amp; Update</text><text x="285" y="910">MOSAIC</text><text class="bl" x="285" y="920">Pt queue to chemo-chair</text><rect class="R" x="222" y="839" width="26" height="16"/><text class="tt" x="235" y="850">cMA</text><rect class="Y" x="324" y="838" width="24" height="15"/><text class="tt" x="336" y="848.5">cN</text><rect class="G" x="222" y="927" width="26" height="15"/><text class="tt" x="235" y="937.5">Pt</text></g>
<g id="cm_vital1"><rect class="w" x="383" y="851" width="127" height="31"/><rect class="g" x="383" y="882" width="127" height="31"/><text x="446" y="865">Conduct vital assessment</text><text class="xs bl" x="446" y="875">Pre-Treatment</text><text x="446" y="895">Update Patient Record in</text><text x="446" y="906">MOSAIC</text><rect class="R" x="384" y="835" width="26" height="17"/><text class="tt" x="397" y="846.5">cMA</text><rect class="G" x="383" y="914" width="26" height="16"/><text class="tt" x="396" y="925">Pt</text><rect class="B" x="483" y="914" width="27" height="16"/><text class="tt" x="496.5" y="925">cN</text></g>
<g id="cm_food"><polygon class="d" points="528,880 582,852 636,880 582,908"/><text x="582" y="877">Is food/other supply</text><text x="582" y="889">cart empty?</text><rect class="R" x="535" y="852" width="26" height="17"/><text class="tt" x="548" y="863.5">cMA</text></g>
<g id="cm_replenish"><rect class="w" x="670" y="853" width="127" height="35"/><text x="733" y="866">Replenish food/other supply</text><text x="733" y="878">cart</text><rect class="R" x="667" y="835" width="48" height="17"/><text class="tt" x="691" y="846.5">cMA, cN</text><rect class="Y" x="767" y="838" width="27" height="14"/><text class="tt" x="780.5" y="848">Do</text></g>
<g id="cm_ask"><rect class="w" x="670" y="907" width="127" height="53"/><text x="733" y="925">Ask Pt if needed anything for</text><text x="733" y="936">treatment duration (eg.</text><text x="733" y="947">Food, blanket, headset, etc)</text><rect class="R" x="670" y="891" width="26" height="16"/><text class="tt" x="683" y="902">cMA</text><rect class="G" x="671" y="960" width="25" height="15"/><text class="tt" x="683.5" y="970.5">Pt</text><rect class="B" x="770" y="960" width="26" height="15"/><text class="tt" x="783" y="970.5">cN</text></g>
<g id="cm_in"><circle class="c" cx="852" cy="867" r="20"/><text x="852" y="871">In</text></g>
<g id="cm_pull"><rect class="w" x="143" y="943" width="154" height="43"/><text x="220" y="957">Pull Schedule for a day report:</text><text class="xs bl" x="220" y="967">Review special medication need and monitor</text><text class="xs bl" x="220" y="976">schedule</text><rect class="R" x="143" y="926" width="26" height="16"/><text class="tt" x="156" y="937">cMA</text><rect class="G" x="143" y="986" width="26" height="15"/><text class="tt" x="156" y="996.5">cN</text></g>
<g id="cm_me"><circle class="c" cx="327" cy="950" r="17"/><text x="327" y="954">Me</text></g>
<g id="cm_pa"><circle class="c" cx="308" cy="1001" r="18"/><text x="308" y="1005">Pa</text></g>
<g id="cm_vital2"><rect class="w" x="344" y="965" width="127" height="22"/><rect class="g" x="344" y="987" width="127" height="21"/><text x="407" y="973">Conduct vital assessment</text><text class="xs bl" x="407" y="984">Post-Treatment</text><text x="407" y="996">Update Patient Record in</text><text x="407" y="1006">MOSAIC</text><rect class="R" x="345" y="948" width="26" height="15"/><text class="tt" x="358" y="958.5">cMA</text><rect class="G" x="345" y="1007" width="25" height="15"/><text class="tt" x="357.5" y="1017.5">Pt</text></g>
<g id="cm_health"><polygon class="d" points="491,995 556,968 622,995 556,1020"/><text x="556" y="990">Is Pt in good health to</text><text x="556" y="1002">leave?</text><rect class="R" x="502" y="968" width="26" height="14"/><text class="tt" x="515" y="978">cMA</text><rect class="Y" x="509" y="1002" width="22" height="15"/><text class="tt" x="520" y="1012.5">cN</text></g>
<g id="cm_sc"><circle class="c" cx="614" cy="962" r="18"/><text x="614" y="966">Sc</text></g>
<g id="cm_p"><circle class="c" cx="752" cy="993" r="18"/><text x="752" y="997">P</text></g>
<g id="cm_pu"><circle class="c" cx="865" cy="939" r="17"/><text x="865" y="943">Pu</text></g>
<g id="cm_receive"><rect class="w" x="813" y="976" width="127" height="30"/><text x="876" y="984">Receive &amp; check for third-</text><text x="876" y="995">party equipment delivery</text><text x="876" y="1005">(pump)</text><rect class="R" x="813" y="962" width="26" height="14"/><text class="tt" x="826" y="972">cMA</text><rect class="Y" x="913" y="962" width="27" height="14"/><text class="tt" x="926.5" y="972">Do</text><rect class="G" x="813" y="1006" width="26" height="15"/><text class="tt" x="826" y="1016.5">De</text><rect class="B" x="913" y="1006" width="26" height="15"/><text class="tt" x="926" y="1016.5">cN</text></g>
<g id="fo_nu"><circle class="c" cx="172" cy="1064" r="21"/><text x="172" y="1068">Nu</text></g>
<g id="fo_access"><rect class="w" x="229" y="1048" width="127" height="24"/><rect class="g" x="229" y="1072" width="127" height="22"/><text x="292" y="1065">Access Pt Record &amp; verify Pt</text><text x="292" y="1086">Pt Record in MOSAIC</text><rect class="R" x="229" y="1032" width="25" height="16"/><text class="tt" x="241.5" y="1043">FN</text><rect class="Y2" x="334" y="1032" width="23" height="16"/><text class="tt" x="345.5" y="1043">Do</text><rect class="B" x="329" y="1094" width="27" height="17"/><text class="tt" x="342.5" y="1105.5">Pt</text></g>
<g id="fo_chemoed"><polygon class="db" points="376,1096 426,1063 476,1096 426,1128"/><text x="426" y="1093">Is pt here for</text><text x="426" y="1104">Chemo-ed?</text><rect class="R" x="396" y="1066" width="16" height="13"/><text class="tt" x="404" y="1075.5">FN</text><rect class="Y2" x="433" y="1066" width="24" height="16"/><text class="tt" x="445" y="1077">Do</text></g>
<g id="fo_answer"><rect class="w" x="152" y="1118" width="127" height="40"/><rect class="g" x="152" y="1158" width="127" height="25"/><text x="215" y="1131">Answer PT queries:</text><text class="bn" x="215" y="1142">phone/walking.</text><text x="215" y="1153">Access record &amp; verify Pt</text><text x="215" y="1174">Pt Record in MOSAIC</text><rect class="R" x="152" y="1101" width="25" height="15"/><text class="tt" x="164.5" y="1111.5">FN</text><rect class="Y2" x="255" y="1101" width="24" height="15"/><text class="tt" x="267" y="1111.5">Do</text><rect class="B" x="251" y="1186" width="26" height="15"/><text class="tt" x="264" y="1196.5">Pt</text></g>
<g id="fo_provide"><rect class="w" x="498" y="1038" width="117" height="34"/><text x="556" y="1047">Provide Chemo-Ed</text><text class="bn" x="556" y="1058">mention diff services</text><text class="bn" x="556" y="1069">available</text><rect class="R" x="497" y="1025" width="20" height="15"/><text class="tt" x="507" y="1035.5">FN</text><rect class="Y2" x="591" y="1025" width="21" height="12"/><text class="tt" x="601.5" y="1034">Do</text><rect class="B" x="586" y="1062" width="26" height="16"/><text class="tt" x="599" y="1073">Pt</text></g>
<g id="fo_pf"><circle class="c" cx="960" cy="1043" r="14"/><text x="960" y="1047">Pf</text></g>
<g id="fo_fo1"><circle class="c" cx="864" cy="1062" r="13"/><text x="864" y="1059">F</text><text x="864" y="1071">o</text></g>
<g id="fo_sc"><circle class="c" cx="958" cy="1092" r="14"/><text x="958" y="1089">S</text><text x="958" y="1101">c</text></g>
<g id="fo_tackle"><polygon class="db" points="523,1107 572,1087 622,1107 572,1127"/><text x="572" y="1110">Can tackle query?</text><rect class="R" x="537" y="1084" width="20" height="15"/><text class="tt" x="547" y="1094.5">FN</text><rect class="Y2" x="586" y="1083" width="23" height="15"/><text class="tt" x="597.5" y="1093.5">Do</text></g>
<g id="fo_work"><rect class="w" x="653" y="1094" width="117" height="20"/><text x="711" y="1107">Work on pt request</text><rect class="R" x="652" y="1078" width="21" height="15"/><text class="tt" x="662.5" y="1088.5">FN</text><rect class="Y2" x="747" y="1078" width="24" height="15"/><text class="tt" x="759" y="1088.5">Do</text><rect class="B" x="747" y="1111" width="27" height="16"/><text class="tt" x="760.5" y="1122">Pt</text></g>
<g id="fo_pereq"><polygon class="db" points="483,1173 533,1148 583,1173 533,1198"/><text x="533" y="1170">Does pt require to</text><text x="533" y="1181">be attend by P/E?</text><rect class="R" x="497" y="1149" width="21" height="14"/><text class="tt" x="507.5" y="1159">FN</text><rect class="Y2" x="552" y="1148" width="24" height="15"/><text class="tt" x="564" y="1158.5">Do</text><rect class="B" x="544" y="1186" width="26" height="16"/><text class="tt" x="557" y="1197">Pt</text></g>
<g id="fo_send"><rect class="w" x="643" y="1143" width="118" height="16"/><text x="702" y="1155">Send Pt to P/E</text><rect class="R" x="643" y="1128" width="21" height="14"/><text class="tt" x="653.5" y="1138">FN</text><rect class="Y2" x="736" y="1128" width="24" height="14"/><text class="tt" x="748" y="1138">Do</text><rect class="B" x="734" y="1160" width="27" height="15"/><text class="tt" x="747.5" y="1170.5">Pt</text></g>
<g id="fo_fo2"><circle class="c" cx="951" cy="1140" r="13"/><text x="951" y="1137">F</text><text x="951" y="1149">o</text></g>
<g id="fo_route"><rect class="w" x="774" y="1168" width="117" height="20"/><text x="832" y="1181">Route pt to dietician,</text><rect class="R" x="774" y="1152" width="21" height="16"/><text class="tt" x="784.5" y="1163">FN</text><rect class="Y2" x="869" y="1152" width="24" height="16"/><text class="tt" x="881" y="1163">Do</text><rect class="B" x="867" y="1187" width="28" height="16"/><text class="tt" x="881" y="1198">Pt</text></g>
<g id="fo_di"><circle class="c" cx="1021" cy="1106" r="16"/><text x="1021" y="1110">Di</text></g>
</svg>
